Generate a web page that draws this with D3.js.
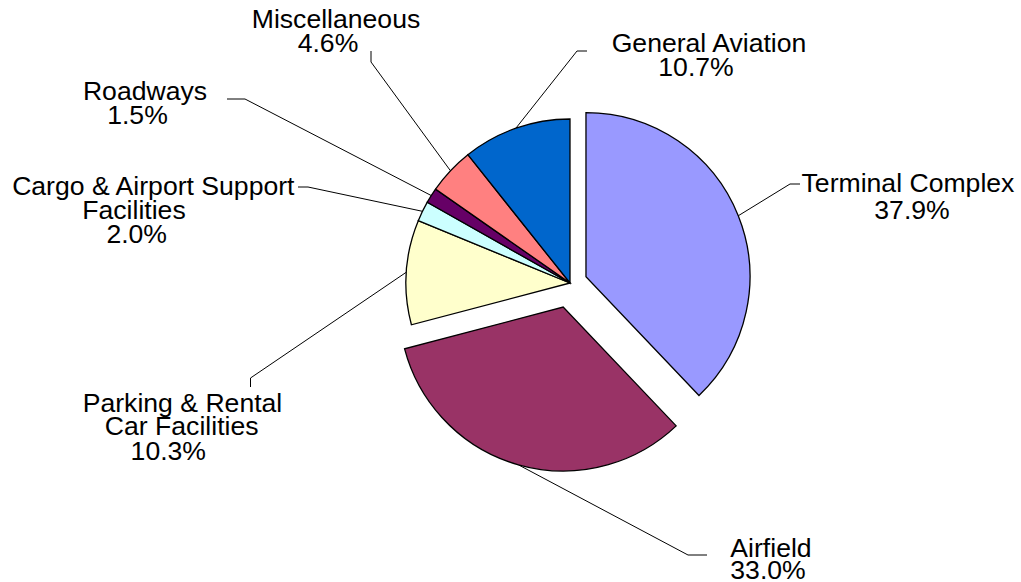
<!DOCTYPE html>
<html>
<head>
<meta charset="utf-8">
<script src="https://cdn.jsdelivr.net/npm/d3@7"></script>
<style>
  html, body { margin: 0; padding: 0; background: #ffffff; }
  svg { display: block; }
</style>
</head>
<body>
<svg id="chart" width="1021" height="582"></svg>
<script>
// Capital programme share by project category (percent of total)
const categories = [
  "Terminal Complex",
  "Airfield",
  "Parking & Rental Car Facilities",
  "Cargo & Airport Support Facilities",
  "Roadways",
  "Miscellaneous",
  "General Aviation"
];
const shares = [37.9, 33.0, 10.3, 2.0, 1.5, 4.6, 10.7];

// How each category name is wrapped in its label
const labelText = [
  ["Terminal Complex"],
  ["Airfield"],
  ["Parking & Rental", "Car Facilities"],
  ["Cargo & Airport Support", "Facilities"],
  ["Roadways"],
  ["Miscellaneous"],
  ["General Aviation"]
];

// Styling
const sliceColors = ["#9999FF", "#993366", "#FFFFCC", "#CCFFFF", "#660066", "#FF8080", "#0066CC"];
const explodeBy = [17.2, 25, 0, 0, 0, 0, 0];

// Label placement: centre x / baseline y of every text line, and the
// leader-line elbow points running from the slice edge to the label
const labelLayout = [
  { lines: [[908, 192], [912, 219]],                 leader: [[790, 184], [800, 184]] },
  { lines: [[771, 557], [768, 579]],                 leader: [[688, 555], [707, 555]] },
  { lines: [[182.5, 411.5], [181.7, 435], [168.3, 460]], leader: [[250.5, 378], [250.5, 387]] },
  { lines: [[153.3, 195], [134, 218.5], [136.7, 242.5]], leader: [[308, 187], [298, 187]] },
  { lines: [[145, 100], [137.5, 123.5]],             leader: [[245, 99], [227, 99]] },
  { lines: [[336, 28.3], [328, 52]],                 leader: [[371, 62], [371, 51]] },
  { lines: [[709, 52.3], [696, 76]],                 leader: [[577, 51], [587, 51]] }
];

const cx = 570, cy = 283, radius = 164;
const fmtPct = d3.format(".1f");

const data = categories.map((c, i) => ({
  category: c, share: shares[i], lines: labelText[i],
  color: sliceColors[i], explode: explodeBy[i], layout: labelLayout[i]
}));

const svg = d3.select("#chart");
svg.append("rect").attr("width", 1021).attr("height", 582).attr("fill", "#ffffff");

const pie = d3.pie().sort(null).value(d => d.share).startAngle(0).endAngle(2 * Math.PI);
const arc = d3.arc().innerRadius(0).outerRadius(radius);
const arcs = pie(data);

// Offset of a slice's apex after explosion
function shift(a) {
  const mid = (a.startAngle + a.endAngle) / 2;
  return [Math.sin(mid) * a.data.explode, -Math.cos(mid) * a.data.explode];
}

// Leader lines
const line = d3.line();
svg.append("g").selectAll("path")
  .data(arcs)
  .join("path")
  .attr("d", a => {
    const mid = (a.startAngle + a.endAngle) / 2;
    const [dx, dy] = shift(a);
    const start = [cx + dx + Math.sin(mid) * radius, cy + dy - Math.cos(mid) * radius];
    return line([start, ...a.data.layout.leader]);
  })
  .attr("fill", "none")
  .attr("stroke", "#000000")
  .attr("stroke-width", 1);

// Slices
svg.append("g").selectAll("path")
  .data(arcs)
  .join("path")
  .attr("transform", a => {
    const [dx, dy] = shift(a);
    return `translate(${cx + dx},${cy + dy})`;
  })
  .attr("d", arc)
  .attr("fill", a => a.data.color)
  .attr("stroke", "#000000")
  .attr("stroke-width", 1.3)
  .attr("stroke-linejoin", "miter");

// Labels: category name lines followed by the percentage
const labels = svg.append("g")
  .attr("font-family", "'Liberation Sans', Arial, sans-serif")
  .attr("font-size", 26.6)
  .attr("fill", "#000000")
  .attr("text-anchor", "middle");

arcs.forEach(a => {
  const texts = [...a.data.lines, fmtPct(a.data.share) + "%"];
  texts.forEach((t, k) => {
    const [x, y] = a.data.layout.lines[k];
    labels.append("text").attr("x", x).attr("y", y).text(t);
  });
});
</script>
</body>
</html>
